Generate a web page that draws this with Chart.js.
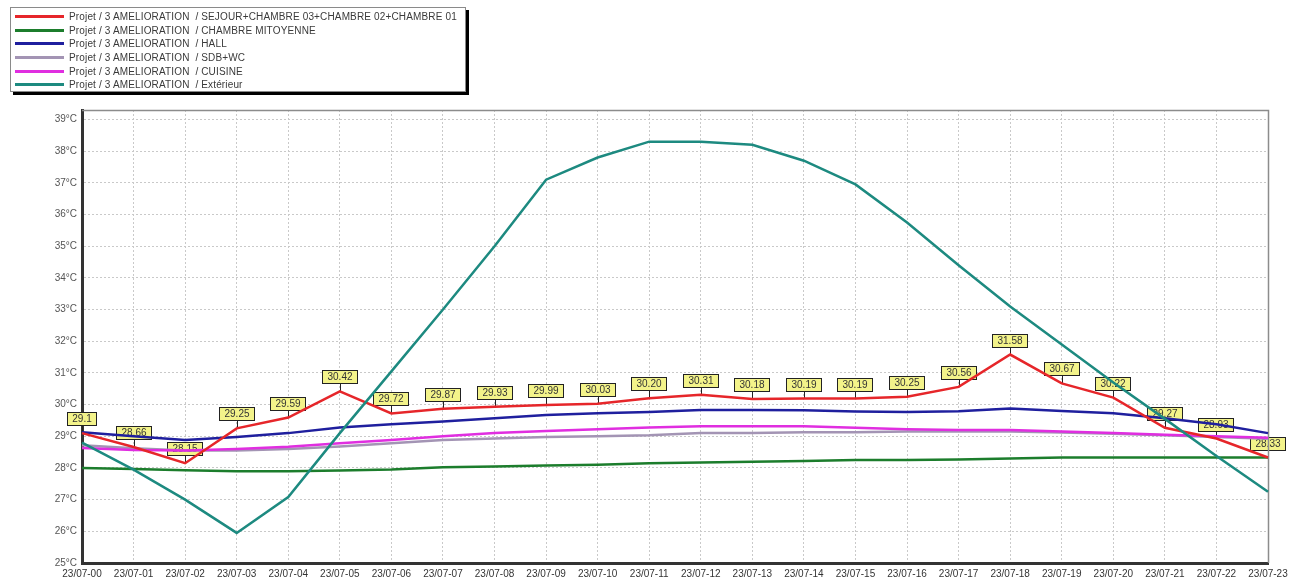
<!DOCTYPE html>
<html>
<head>
<meta charset="utf-8">
<script src="https://cdn.jsdelivr.net/npm/chart.js@4/dist/chart.umd.min.js"></script>
<style>
  html, body { margin: 0; padding: 0; background: #ffffff; }
  #wrap { position: relative; width: 1297px; height: 585px; overflow: hidden; }
  #c { position: absolute; left: 0; top: 0; }
  #legend {
    position: absolute; left: 10px; top: 7px; width: 454px; height: 81px;
    border: 1px solid #8a8a8a; box-shadow: 3px 3px 0 #000; background: #fff;
    padding-top: 2px; box-sizing: content-box;
    font-family: "Liberation Sans", Arial, sans-serif; font-size: 10px; letter-spacing: 0.15px; color: #3a3a3a;
  }
  .row { height: 13.6px; display: flex; align-items: center; white-space: pre; }
  .sw { width: 49px; height: 3px; margin-left: 4px; margin-right: 5px; }
</style>
</head>
<body>
<div id="wrap">
  <canvas id="c" width="1297" height="585"></canvas>
  <div id="legend"></div>
</div>
<script>
const hours = ['23/07-00','23/07-01','23/07-02','23/07-03','23/07-04','23/07-05','23/07-06','23/07-07',
  '23/07-08','23/07-09','23/07-10','23/07-11','23/07-12','23/07-13','23/07-14','23/07-15',
  '23/07-16','23/07-17','23/07-18','23/07-19','23/07-20','23/07-21','23/07-22','23/07-23'];

const seriesNames = [
  'Projet / 3 AMELIORATION  / SEJOUR+CHAMBRE 03+CHAMBRE 02+CHAMBRE 01',
  'Projet / 3 AMELIORATION  / CHAMBRE MITOYENNE',
  'Projet / 3 AMELIORATION  / HALL',
  'Projet / 3 AMELIORATION  / SDB+WC',
  'Projet / 3 AMELIORATION  / CUISINE',
  'Projet / 3 AMELIORATION  / Extérieur'
];

const sejourText = ['29.1','28.66','28.15','29.25','29.59','30.42','29.72','29.87','29.93','29.99','30.03','30.20',
  '30.31','30.18','30.19','30.19','30.25','30.56','31.58','30.67','30.22','29.27','28.93','28.33'];
const sejour = [29.1, 28.66, 28.15, 29.25, 29.59, 30.42, 29.72, 29.87, 29.93, 29.99, 30.03, 30.20,
  30.31, 30.18, 30.19, 30.19, 30.25, 30.56, 31.58, 30.67, 30.22, 29.27, 28.93, 28.33];
const mitoyenne = [28.0, 27.97, 27.93, 27.9, 27.9, 27.92, 27.95, 28.02, 28.05, 28.08, 28.1, 28.15,
  28.17, 28.2, 28.22, 28.25, 28.25, 28.27, 28.3, 28.33, 28.33, 28.33, 28.33, 28.33];
const hall = [29.13, 29.0, 28.88, 28.98, 29.1, 29.28, 29.38, 29.47, 29.57, 29.67, 29.73, 29.77,
  29.83, 29.83, 29.82, 29.78, 29.77, 29.79, 29.88, 29.8, 29.73, 29.57, 29.38, 29.1];
const sdb = [28.72, 28.62, 28.55, 28.55, 28.6, 28.68, 28.78, 28.88, 28.93, 28.98, 29.0, 29.03,
  29.1, 29.1, 29.13, 29.13, 29.15, 29.15, 29.15, 29.12, 29.08, 29.03, 28.98, 28.92];
const cuisine = [28.63, 28.57, 28.55, 28.6, 28.67, 28.78, 28.88, 29.0, 29.1, 29.17, 29.22, 29.28,
  29.32, 29.32, 29.32, 29.27, 29.22, 29.2, 29.2, 29.15, 29.1, 29.05, 29.0, 28.95];
const exterieur = [28.8, 27.95, 27.0, 25.95, 27.08, 29.1, 31.05, 33.0, 35.0, 37.1, 37.8, 38.3,
  38.3, 38.2, 37.7, 36.95, 35.75, 34.4, 33.1, 31.9, 30.7, 29.55, 28.38, 27.25];
const yTicks = [25, 26, 27, 28, 29, 30, 31, 32, 33, 34, 35, 36, 37, 38, 39];

const colors = ['#e6262a', '#1c7d2c', '#1f1f9e', '#a394b4', '#e02ee0', '#1d8a80'];
const seriesData = [sejour, mitoyenne, hall, sdb, cuisine, exterieur];
const drawOrder = [1, 5, 2, 4, 3, 0];

const FONT = '"Liberation Sans", Arial, sans-serif';

const valueLabels = {
  id: 'valueLabels',
  beforeDatasetsDraw(chart) {
    const ctx = chart.ctx;
    const meta = chart.getDatasetMeta(0);
    ctx.save();
    ctx.font = '10px ' + FONT;
    ctx.textAlign = 'center';
    ctx.textBaseline = 'middle';
    meta.data.forEach((pt, i) => {
      const t = sejourText[i];
      const w = Math.round(ctx.measureText(t).width) + 10;
      const h = 13;
      const gap = 8;
      const x = Math.round(pt.x), y = Math.round(pt.y);
      const bx = x - Math.round(w / 2) + 0.5, by = y - gap - h + 0.5;
      ctx.strokeStyle = '#222';
      ctx.lineWidth = 1;
      ctx.beginPath();
      ctx.moveTo(x + 0.5, y - gap);
      ctx.lineTo(x + 0.5, y);
      ctx.stroke();
      ctx.fillStyle = '#f3f38a';
      ctx.fillRect(bx, by, w, h);
      ctx.strokeRect(bx, by, w, h);
      ctx.fillStyle = '#333';
      ctx.fillText(t, x, by + h / 2 + 0.5);
    });
    ctx.restore();
  }
};

const frame = {
  id: 'frame',
  beforeDatasetsDraw(chart) {
    const {left, right, top, bottom} = chart.chartArea;
    const ctx = chart.ctx;
    ctx.save();
    ctx.strokeStyle = '#8c8c8c';
    ctx.lineWidth = 1.5;
    ctx.beginPath();
    ctx.moveTo(left, top + 0.5);
    ctx.lineTo(right + 0.5, top + 0.5);
    ctx.lineTo(right + 0.5, bottom);
    ctx.stroke();
    ctx.restore();
  }
};

const chart = new Chart(document.getElementById('c'), {
  type: 'line',
  data: {
    labels: hours,
    datasets: seriesData.map((d, i) => ({
      label: seriesNames[i],
      data: d,
      borderColor: colors[i],
      backgroundColor: colors[i],
      borderWidth: 2.5,
      pointRadius: 0,
      tension: 0,
      fill: false,
      order: drawOrder[i]
    }))
  },
  options: {
    responsive: false,
    animation: false,
    events: [],
    layout: { padding: { left: 0, top: 110, right: 29, bottom: 0 } },
    plugins: { legend: { display: false }, tooltip: { enabled: false } },
    scales: {
      x: {
        type: 'category',
        offset: false,
        grid: { color: '#c9c9c9', lineWidth: 1, drawTicks: false },
        border: { display: true, color: '#333', width: 3, dash: [2, 2] },
        ticks: { color: '#333', font: { family: FONT, size: 10 }, padding: 5, maxRotation: 0, autoSkip: false },
        afterFit(scale) { scale.height = 22; }
      },
      y: {
        min: 25, max: 39.3,
        grid: { color: '#c9c9c9', lineWidth: 1, drawTicks: false },
        border: { display: true, color: '#333', width: 3, dash: [2, 2] },
        ticks: { autoSkip: false, color: '#555', font: { family: FONT, size: 10 }, padding: 5,
          callback: v => v + '°C' },
        afterBuildTicks(scale) { scale.ticks = yTicks.map(v => ({ value: v })); },
        afterFit(scale) { scale.width = 82; }
      }
    }
  },
  plugins: [valueLabels, frame]
});

const legend = document.getElementById('legend');
chart.data.datasets.forEach(ds => {
  const row = document.createElement('div');
  row.className = 'row';
  const sw = document.createElement('span');
  sw.className = 'sw';
  sw.style.background = ds.borderColor;
  const tx = document.createElement('span');
  tx.textContent = ds.label;
  row.appendChild(sw);
  row.appendChild(tx);
  legend.appendChild(row);
});
</script>
</body>
</html>
